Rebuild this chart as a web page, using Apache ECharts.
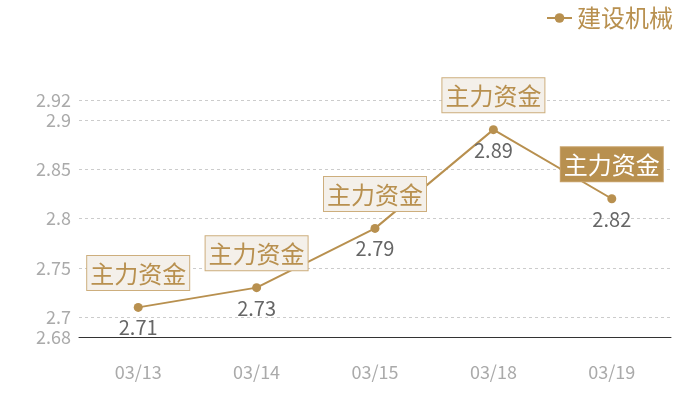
<!DOCTYPE html>
<html>
<head>
<meta charset="utf-8">
<script src="https://cdn.jsdelivr.net/npm/echarts@6/dist/echarts.min.js"></script>
<style>
html,body{margin:0;padding:0;background:#fff;}
#chart{width:700px;height:400px;}
</style>
</head>
<body>
<div id="chart"></div>
<script>
var categories = ['03/13', '03/14', '03/15', '03/18', '03/19'];
var values = [2.71, 2.73, 2.79, 2.89, 2.82];
var seriesName = '建设机械';
var markText = '主力资金';
var highlightIndex = 4;

var gold = '#b8904f';
var font = '"Noto Sans CJK SC", "Noto Sans", sans-serif';

var markData = categories.map(function (c, i) {
  var hi = i === highlightIndex;
  return {
    coord: [i, values[i]],
    value: markText,
    label: {
      backgroundColor: hi ? gold : '#f4f0ea',
      color: hi ? '#ffffff' : gold,
      borderColor: hi ? '#c9a46c' : '#cdae7d'
    }
  };
});

var chart = echarts.init(document.getElementById('chart'));
chart.setOption({
  animation: false,
  textStyle: { fontFamily: font },
  legend: {
    data: [seriesName],
    right: 22,
    top: 1,
    itemWidth: 25,
    itemHeight: 12,
    itemGap: 8,
    textStyle: { color: gold, fontSize: 24, fontFamily: font }
  },
  grid: { left: 79, right: 29, top: 100, bottom: 63 },
  xAxis: {
    type: 'category',
    data: categories,
    boundaryGap: true,
    axisLine: { lineStyle: { color: '#333', width: 1 } },
    axisTick: { show: false },
    axisLabel: { color: '#aaa', fontSize: 18, margin: 26, fontFamily: font }
  },
  yAxis: {
    type: 'value',
    min: function (v) { return +(v.min - 0.03).toFixed(2); },
    max: function (v) { return +(v.max + 0.03).toFixed(2); },
    splitNumber: 5,
    axisLine: { show: false },
    axisTick: { show: false },
    axisLabel: { color: '#aaa', fontSize: 18, margin: 8, fontFamily: font },
    splitLine: { lineStyle: { color: '#ccc', type: [3, 3] } }
  },
  series: [{
    name: seriesName,
    type: 'line',
    data: values,
    symbol: 'circle',
    symbolSize: 9,
    lineStyle: { color: gold, width: 2 },
    itemStyle: { color: gold },
    label: {
      show: true,
      position: 'bottom',
      distance: 6,
      color: '#666',
      fontSize: 20,
      fontFamily: font
    },
    markPoint: {
      symbol: 'circle',
      symbolSize: 1,
      itemStyle: { color: 'rgba(0,0,0,0)' },
      label: {
        show: true,
        position: 'top',
        distance: 17,
        fontSize: 24,
        lineHeight: 29,
        padding: [3, 3, 2, 3],
        borderWidth: 1,
        fontFamily: font,
        formatter: function (p) { return p.value; }
      },
      data: markData
    }
  }]
});
</script>
</body>
</html>
